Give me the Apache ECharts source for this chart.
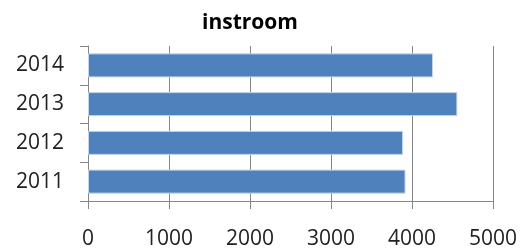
<!DOCTYPE html>
<html>
<head>
<meta charset="utf-8">
<script src="https://cdn.jsdelivr.net/npm/echarts@6/dist/echarts.min.js"></script>
<style>
  html, body { margin: 0; padding: 0; background: #fff; }
  #chart { width: 527px; height: 250px; }
</style>
</head>
<body>
<div id="chart"></div>
<script>
var years = ['2011', '2012', '2013', '2014'];
var instroom = [3920, 3890, 4560, 4260];
var xTicks = [0, 1000, 2000, 3000, 4000, 5000];

var chart = echarts.init(document.getElementById('chart'));
var font = '"Open Sans", "Noto Sans", sans-serif';

chart.setOption({
    animation: false,
    title: {
        text: 'instroom',
        left: 245,
        top: 8,
        textAlign: 'center',
        textStyle: { fontFamily: font, fontSize: 21, fontWeight: 'bold', color: '#000' }
    },
    grid: { left: 88, right: 34, top: 46, bottom: 47 },
    xAxis: {
        type: 'value',
        min: xTicks[0],
        max: xTicks[xTicks.length - 1],
        interval: 1000,
        axisLine: { show: true, lineStyle: { color: '#868686', width: 1 } },
        axisTick: { show: true, length: 8, lineStyle: { color: '#868686' } },
        splitLine: { show: true, lineStyle: { color: '#868686', width: 1 } },
        axisLabel: {
            margin: 28, fontFamily: font, fontSize: 21, color: '#222',
            formatter: function (v) { return String(v); }
        }
    },
    yAxis: {
        type: 'category',
        data: years,
        axisLine: { show: true, lineStyle: { color: '#868686', width: 1 } },
        axisTick: { show: true, length: 8, lineStyle: { color: '#868686' } },
        axisLabel: { margin: 24, fontFamily: font, fontSize: 21, color: '#222' }
    },
    series: [{
        name: 'instroom',
        type: 'bar',
        data: instroom,
        barCategoryGap: '38%',
        itemStyle: { color: '#4f81bd', borderColor: '#c6d6ea', borderWidth: 1 }
    }]
});
</script>
</body>
</html>
